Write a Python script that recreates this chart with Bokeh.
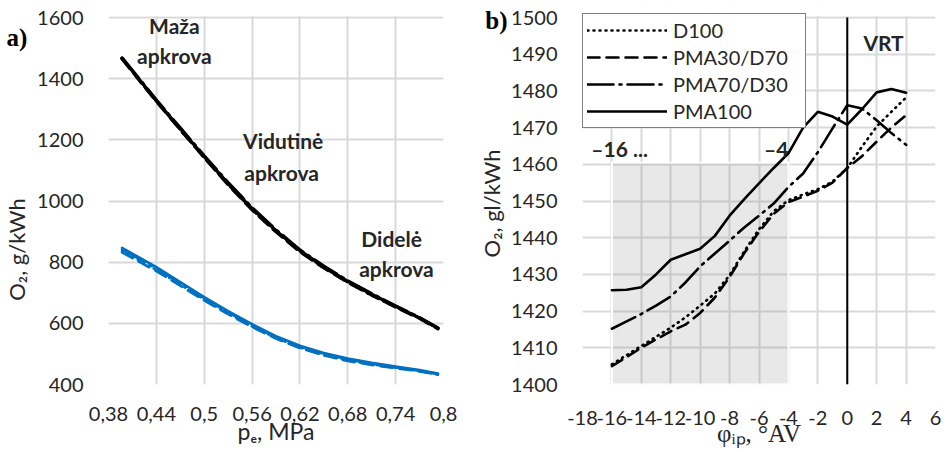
import math
from bokeh.plotting import figure
from bokeh.models import Range1d, FixedTicker, Legend, LegendItem
from bokeh.layouts import row
from bokeh.embed import file_html
from bokeh.resources import INLINE
from bokeh.core.properties import value

SANS = "Lato"
SERIF = "Liberation Serif"
TXT = "#262626"
GRID = "#d9d9d9"
BLUE = "#0070C0"
H = 450
FRAME_BOTTOM = 384      # page y of the plot-area bottom
TOP_PAD = 17            # px between canvas top and the top gridline
FRAME_H = FRAME_BOTTOM - TOP_PAD

# ---------------- panel a) data ----------------
pe = [0.397, 0.42, 0.44, 0.47, 0.50, 0.53, 0.56, 0.59, 0.62, 0.65, 0.68, 0.71, 0.74, 0.77, 0.793]
a_blk_pma100 = [1467, 1393, 1328, 1236, 1145, 1057, 975, 903, 838, 785, 737, 695, 656, 618, 584]
a_blk_pma30 = [1465, 1390, 1326, 1233, 1142, 1053, 971, 899, 834, 781, 734, 692, 653, 616, 582]
a_blk_pma70 = [1468, 1395, 1330, 1239, 1148, 1060, 978, 906, 840, 787, 739, 697, 657, 619, 585]
a_blk_d100 = [1466, 1391, 1327, 1234, 1143, 1055, 973, 901, 836, 783, 735, 693, 654, 617, 583]
a_blu_pma100 = [847, 813, 784, 735, 686, 640, 597, 558, 527, 503, 485, 471, 459, 447, 436]
a_blu_pma70 = [842, 808, 779, 731, 682, 636, 593, 555, 524, 500, 482, 468, 456, 445, 434]
a_blu_d100 = [836, 803, 775, 727, 678, 633, 590, 552, 521, 497, 479, 466, 455, 444, 433]
a_blu_pma30 = [832, 799, 771, 723, 675, 630, 588, 550, 519, 495, 477, 464, 453, 443, 432]
a_xticks = [0.38, 0.44, 0.5, 0.56, 0.62, 0.68, 0.74, 0.8]
a_xlabels = ["0,38", "0,44", "0,5", "0,56", "0,62", "0,68", "0,74", "0,8"]
a_yticks = [400, 600, 800, 1000, 1200, 1400, 1600]
a_notes = ["Maža", "apkrova", "Vidutinė", "apkrova", "Didelė", "apkrova"]
a_xtitle = "p\u2091, MPa"
a_ytitle = "O\u2082, g/kWh"
a_tag = "a)"

# ---------------- panel b) data ----------------
phi = [-16, -15, -14, -13, -12, -11, -10, -9, -8, -7, -6, -5, -4, -3, -2, -1, 0, 1, 2, 3, 4]
b_d100 = [1405.5, 1408, 1410.5, 1413, 1415.5, 1418.3, 1421.5, 1424.8, 1429.8, 1436.3, 1442.3,
          1447.2, 1450.2, 1451.8, 1453.2, 1455.3, 1459, 1464.8, 1470.3, 1474.3, 1478.2]
b_pma30 = [1405, 1407.5, 1410, 1412.3, 1414.5, 1416.3, 1419.5, 1423.7, 1429.3, 1435.8, 1441.6,
           1446.5, 1449.7, 1451.2, 1452.8, 1455, 1459, 1462.2, 1466.2, 1470, 1473.4]
b_pma70 = [1415.2, 1417.2, 1419.2, 1421.5, 1424, 1427.8, 1432.2, 1435.7, 1439.2, 1442.8, 1446,
           1449.3, 1453.8, 1457.5, 1463.3, 1469.8, 1476.1, 1475.2, 1472, 1468.5, 1465.3]
b_pma100 = [1425.7, 1425.8, 1426.5, 1430, 1434, 1435.5, 1437, 1440.5, 1446, 1450.5, 1454.8,
            1459, 1463, 1470, 1474.3, 1473, 1470.8, 1475, 1479.6, 1480.5, 1479.5]
b_names = ["D100", "PMA30/D70", "PMA70/D30", "PMA100"]
b_xticks = [-18, -16, -14, -12, -10, -8, -6, -4, -2, 0, 2, 4, 6]
b_xlabels = ["-18", "-16", "-14", "-12", "-10", "-8", "-6", "-4", "-2", "0", "2", "4", "6"]
b_yticks = [1400, 1410, 1420, 1430, 1440, 1450, 1460, 1470, 1480, 1490, 1500]
b_shade = [-16, -4, 1400, 1460.5]
b_vrt = 0
b_notes = ["\u201316 ...", "\u20134", "VRT"]
b_xtitle = "\u03c6\u1d62\u209a, \u00b0AV"
b_ytitle = "O\u2082, gl/kWh"
b_tag = "b)"

DASH = {"D100": "1 5", "PMA30/D70": "12 7", "PMA70/D30": "26 6 2 6", "PMA100": "solid"}


def base(p, xt, xl, yt, xstand, lstand):
    p.outline_line_color = None
    p.background_fill_color = "white"
    p.border_fill_color = "white"
    for ax in (p.xaxis[0], p.yaxis[0]):
        ax.axis_line_color = None
        ax.major_tick_line_color = None
        ax.minor_tick_line_color = None
        ax.major_tick_out = 0
        ax.major_tick_in = 0
        ax.minor_tick_out = 0
        ax.minor_tick_in = 0
        ax.major_label_text_font = SANS
        ax.major_label_text_font_size = "20px"
        ax.major_label_text_color = TXT
    p.xaxis.ticker = FixedTicker(ticks=xt)
    p.xaxis.major_label_overrides = {t: l for t, l in zip(xt, xl)}
    p.yaxis.ticker = FixedTicker(ticks=yt)
    p.xgrid.ticker = FixedTicker(ticks=xt)
    p.ygrid.ticker = FixedTicker(ticks=yt)
    for g in (p.xgrid[0], p.ygrid[0]):
        g.grid_line_color = GRID
        g.grid_line_width = 2
    p.yaxis.major_label_standoff = 25
    p.xaxis.major_label_standoff = xstand
    p.xaxis.axis_label_standoff = lstand
    p.xaxis.axis_label_text_font_style = "normal"
    p.xaxis.axis_label_text_color = TXT


def top_range(lo, hi):
    # extend the range so the top gridline sits TOP_PAD px below the canvas top
    return Range1d(lo, hi + TOP_PAD * (hi - lo) / FRAME_H)


def mask_top(p, x0, x1, lo, hi):
    # white band over the strip above the top gridline (hides vertical gridline ends)
    per_px = (hi - lo) / FRAME_H
    p.quad(left=[x0], right=[x1], bottom=[hi + 1.2 * per_px], top=[hi + (TOP_PAD + 2) * per_px],
           fill_color="white", line_color=None)


def strip(width):
    s = figure(width=width, height=H, x_range=Range1d(0, width), y_range=Range1d(FRAME_BOTTOM, 0),
               x_axis_type=None, y_axis_type=None, output_backend="svg", toolbar_location=None,
               min_border_left=0, min_border_right=0, min_border_top=0, min_border_bottom=H - FRAME_BOTTOM)
    s.outline_line_color = None
    s.xgrid.visible = False
    s.ygrid.visible = False
    s.background_fill_color = "white"
    s.border_fill_color = "white"
    return s


# ---------------- left strip (a) tag + y title) ----------------
sa = strip(30)
sa.text(x=[6], y=[37], text=[a_tag], text_font=value(SERIF), text_font_style="bold",
        text_font_size="25px", text_color="black", text_align="left", text_baseline="middle")
sa.text(x=[16], y=[249], text=[a_ytitle], angle=math.pi / 2, text_font=value(SANS),
        text_font_size="22px", text_color=TXT, text_align="center", text_baseline="middle")

# ---------------- panel a ----------------
p1 = figure(width=433, height=H, x_range=Range1d(0.38, 0.8), y_range=top_range(400, 1600),
            output_backend="svg", toolbar_location=None,
            min_border_left=78, min_border_right=20, min_border_top=0, min_border_bottom=H - FRAME_BOTTOM)
base(p1, a_xticks, a_xlabels, a_yticks, 22, -7)
p1.xaxis.axis_label = a_xtitle
p1.xaxis.axis_label_text_font = SANS
p1.xaxis.axis_label_text_font_size = "23px"
mask_top(p1, 0.36, 0.82, 400, 1600)

for ys, nm in ((a_blu_pma30, "PMA30/D70"), (a_blu_d100, "D100"), (a_blu_pma70, "PMA70/D30"), (a_blu_pma100, "PMA100")):
    p1.line(pe, ys, line_color=BLUE, line_width=2.6, line_dash=DASH[nm], line_cap="round")
for ys, nm in ((a_blk_pma30, "PMA30/D70"), (a_blk_d100, "D100"), (a_blk_pma70, "PMA70/D30"), (a_blk_pma100, "PMA100")):
    p1.line(pe, ys, line_color="black", line_width=3.2, line_dash=DASH[nm], line_cap="round")

p1.text(x=[0.4626, 0.4626, 0.599, 0.597, 0.735, 0.741],
        y=[1574, 1476, 1198, 1093, 877, 779], text=a_notes,
        text_font=value(SANS), text_font_style="bold", text_font_size="21px",
        text_color=TXT, text_align="center", text_baseline="middle")

# ---------------- middle strip (b) tag + y title) ----------------
sb = strip(45)
sb.text(x=[44], y=[20], text=[b_tag], text_font=value(SERIF), text_font_style="bold",
        text_font_size="25px", text_color="black", text_align="right", text_baseline="middle")
sb.text(x=[28], y=[203], text=[b_ytitle], angle=math.pi / 2, text_font=value(SANS),
        text_font_size="22px", text_color=TXT, text_align="center", text_baseline="middle")

# ---------------- panel b ----------------
p2 = figure(width=437, height=H, x_range=Range1d(-18, 6), y_range=top_range(1400, 1500),
            output_backend="svg", toolbar_location=None,
            min_border_left=72, min_border_right=10, min_border_top=0, min_border_bottom=H - FRAME_BOTTOM)
base(p2, b_xticks, b_xlabels, b_yticks, 26, -8)
p2.xaxis.axis_label = b_xtitle
p2.xaxis.axis_label_text_font = SERIF
p2.xaxis.axis_label_text_font_size = "25px"
mask_top(p2, -19, 7, 1400, 1500)

p2.quad(left=[b_shade[0]], right=[b_shade[1]], bottom=[b_shade[2]], top=[b_shade[3]],
        fill_color="#808080", fill_alpha=0.18, line_color="white", line_width=2)
p2.segment(x0=[b_vrt], y0=[1400], x1=[b_vrt], y1=[1500], line_color="black", line_width=2)

rends = []
for ys, nm in zip((b_d100, b_pma30, b_pma70, b_pma100), b_names):
    r = p2.line(phi, ys, line_color="black", line_width=2.6, line_dash=DASH[nm], line_cap="round")
    rends.append(r)

p2.text(x=[-17.4], y=[1464.2], text=[b_notes[0]], text_font=value(SANS), text_font_style="bold",
        text_font_size="21px", text_color=TXT, text_align="left", text_baseline="middle")
p2.text(x=[-4.0], y=[1464.2], text=[b_notes[1]], text_font=value(SANS), text_font_style="bold",
        text_font_size="21px", text_color=TXT, text_align="right", text_baseline="middle")
p2.text(x=[2.47], y=[1493.3], text=[b_notes[2]], text_font=value(SANS), text_font_style="bold",
        text_font_size="21px", text_color=TXT, text_align="center", text_baseline="middle")

leg = Legend(items=[LegendItem(label=n, renderers=[r]) for n, r in zip(b_names, rends)],
             location=(0, FRAME_BOTTOM - 128), margin=0, padding=4, spacing=3,
             glyph_width=80, glyph_height=22, label_standoff=6, label_width=128,
             label_text_font=SANS, label_text_font_size="20px", label_text_color=TXT,
             border_line_color="black", border_line_width=1.5, background_fill_alpha=1)
p2.add_layout(leg)

layout = row(sa, p1, sb, p2)
open("out.html", "w").write(file_html(layout, INLINE))
